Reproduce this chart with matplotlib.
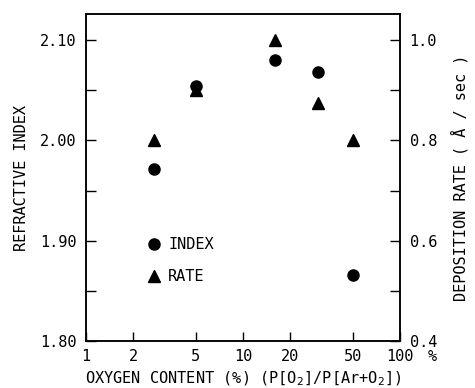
import matplotlib.pyplot as plt
from matplotlib.ticker import FixedLocator, NullFormatter

# data
oxygen = [2.7, 5, 16, 30, 50]               # O2 content (%)
index = [1.971, 2.054, 2.080, 2.068, 1.866]  # refractive index
rate = [0.80, 0.90, 1.00, 0.875, 0.80]      # deposition rate (A/sec)

x_ticks = [1, 2, 5, 10, 20, 50, 100]
x_labels = ['1', '2', '5', '10', '20', '50', '100']

plt.rcParams['font.family'] = ['DejaVu Sans Mono', 'DejaVu Sans']
plt.rcParams['font.size'] = 11

fig = plt.figure(figsize=(4.75, 3.88), dpi=100)
ax = fig.add_axes([0.181, 0.121, 0.661, 0.843])
ax2 = ax.twinx()

# 左轴: 折射率, 右轴: 沉积速率
ax.set_xscale('log')
ax.set_xlim(1, 100)
ax.set_ylim(1.80, 2.126)
ax2.set_ylim(0.40, 1.052)

h1, = ax.plot(oxygen, index, 'o', color='black', ms=8, label='INDEX')
h2, = ax2.plot(oxygen, rate, '^', color='black', ms=8, label='RATE')

ax.xaxis.set_major_locator(FixedLocator(x_ticks))
ax.set_xticklabels(x_labels)
ax.xaxis.set_minor_formatter(NullFormatter())
ax.xaxis.set_minor_locator(FixedLocator([]))
# 单位 % 放在 100 右边
ax.annotate('%', xy=(1.0, 0), xycoords='axes fraction',
            xytext=(20, -11), textcoords='offset points', ha='left', va='center')

ax.set_yticks([1.80, 1.90, 2.00, 2.10])
ax.set_yticklabels(['1.80', '1.90', '2.00', '2.10'])
ax.set_yticks([1.85, 1.95, 2.05], minor=True)
ax2.set_yticks([0.4, 0.6, 0.8, 1.0])
ax2.set_yticklabels(['0.4', '0.6', '0.8', '1.0'])
ax2.set_yticks([0.5, 0.7, 0.9], minor=True)

ax.tick_params(axis='x', which='both', direction='in', length=6.5, width=1, pad=6)
ax.tick_params(axis='y', which='both', direction='in', length=7, width=1, pad=7)
ax2.tick_params(axis='y', which='both', direction='in', length=7, width=1, pad=7)

for a in (ax, ax2):
    for s in a.spines.values():
        s.set_linewidth(1.1)

ax.set_xlabel('OXYGEN CONTENT (%) (P[O$_2$]/P[Ar+O$_2$])', labelpad=4)
ax.set_ylabel('REFRACTIVE INDEX', labelpad=8)
ax2.set_ylabel('DEPOSITION RATE ( \u00c5 / sec )', labelpad=10)

ax.legend(handles=[h1, h2], loc='upper left', bbox_to_anchor=(0.15, 0.36),
          frameon=False, handlelength=1.0, handletextpad=0.4, labelspacing=1.1,
          numpoints=1)

fig.savefig('out.png', dpi=100)
